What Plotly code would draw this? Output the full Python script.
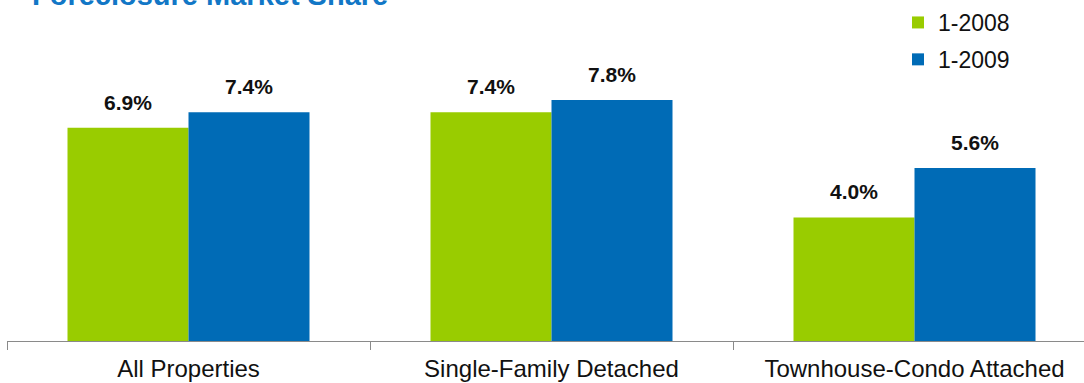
import plotly.graph_objects as go

categories = ["All Properties", "Single-Family Detached", "Townhouse-Condo Attached"]
series_names = ["1-2008", "1-2009"]
values_2008 = [6.9, 7.4, 4.0]
values_2009 = [7.4, 7.8, 5.6]
labels_2008 = ["6.9%", "7.4%", "4.0%"]
labels_2009 = ["7.4%", "7.8%", "5.6%"]
title_text = "Foreclosure Market Share"

GREEN = "#99cc00"
BLUE = "#006bb6"
FONT = "Liberation Sans, Arial, sans-serif"

W, H = 1084, 383
ML, MR, MT, MB = 7, 0, 0, 42
cat_px = 363.0
plot_w = W - ML - MR
plot_h = H - MT - MB
px_per_unit = 30.9
bargap = 1 - 242 / 363

fig = go.Figure()
fig.add_trace(go.Bar(name=series_names[0], x=categories, y=values_2008,
                     marker=dict(color=GREEN, line=dict(width=0)),
                     legendgroup="a"))
fig.add_trace(go.Bar(name=series_names[1], x=categories, y=values_2009,
                     marker=dict(color=BLUE, line=dict(width=0)),
                     legendgroup="b"))

bar_px = cat_px * (1 - bargap) / 2
annotations = []
for vals, labs, sign in ((values_2008, labels_2008, -1), (values_2009, labels_2009, 1)):
    for c, v, t in zip(categories, vals, labs):
        annotations.append(dict(x=c, y=v, xref="x", yref="y", text="<b>%s</b>" % t,
                                showarrow=False, yanchor="bottom", xanchor="center",
                                xshift=sign * bar_px / 2, yshift=12,
                                font=dict(family=FONT, size=21, color="#111111")))
annotations.append(dict(text="<b>%s</b>" % title_text, xref="paper", yref="paper",
                        x=(30 - ML) / plot_w, y=1, xanchor="left", yanchor="bottom",
                        yshift=-13, showarrow=False,
                        font=dict(family=FONT, size=29, color="#1277c6")))

fig.update_layout(
    width=W, height=H,
    margin=dict(l=ML, r=MR, t=MT, b=MB, pad=0),
    paper_bgcolor="white", plot_bgcolor="white",
    barmode="group", bargap=bargap, bargroupgap=0,
    font=dict(family=FONT, size=23, color="#111111"),
    showlegend=True,
    legend=dict(x=(898 - ML) / plot_w, y=1 - 1 / plot_h, xanchor="left", yanchor="top",
                font=dict(family=FONT, size=23, color="#111111"),
                bgcolor="rgba(0,0,0,0)", tracegroupgap=4, traceorder="grouped"),
    annotations=annotations,
)
fig.update_xaxes(range=[-0.5, -0.5 + plot_w / cat_px], showline=True, linecolor="#8a8a8a",
                 linewidth=1, ticks="outside", tickson="boundaries", ticklen=8,
                 tickcolor="#8a8a8a", tickwidth=1, showgrid=False, ticklabelstandoff=6,
                 tickfont=dict(family=FONT, size=24, color="#111111"))
fig.update_yaxes(range=[0, plot_h / px_per_unit], visible=False, showgrid=False,
                 zeroline=False)

fig.write_html("out.html")
